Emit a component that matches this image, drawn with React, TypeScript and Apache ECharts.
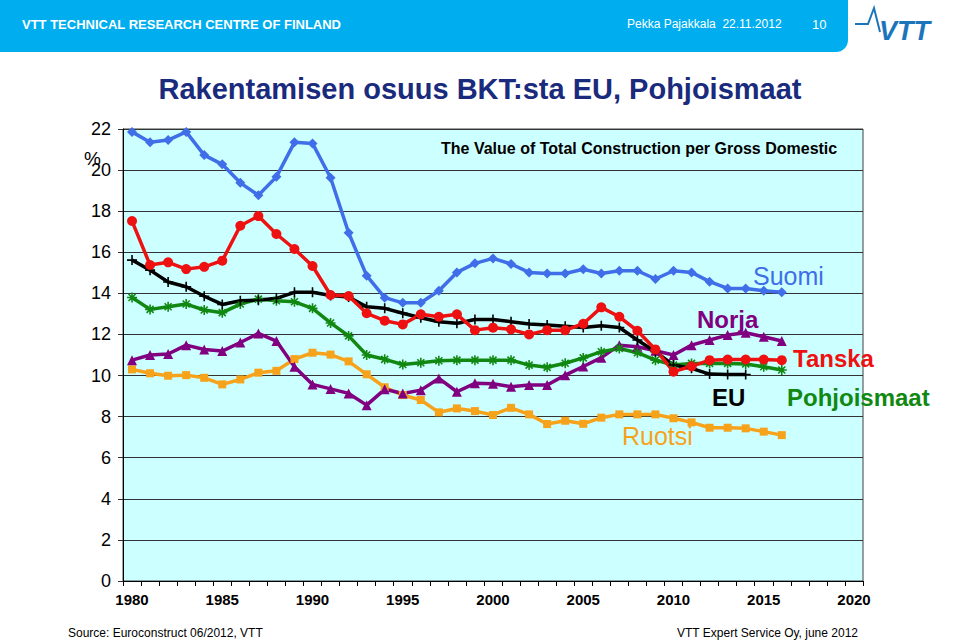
import React, { useEffect, useRef } from "react";
import * as echarts from "echarts";

const years = [
  "1980", "1981", "1982", "1983", "1984", "1985", "1986", "1987", "1988", "1989",
  "1990", "1991", "1992", "1993", "1994", "1995", "1996", "1997", "1998", "1999",
  "2000", "2001", "2002", "2003", "2004", "2005", "2006", "2007", "2008", "2009",
  "2010", "2011", "2012", "2013", "2014", "2015", "2016", "2017", "2018", "2019", "2020",
];

const suomi = [
  21.86, 21.35, 21.46, 21.86, 20.73, 20.28, 19.38, 18.78, 19.67, 21.35,
  21.3, 19.63, 16.95, 14.86, 13.79, 13.54, 13.54, 14.13, 15.02, 15.46,
  15.7, 15.43, 15.02, 14.97, 14.97, 15.17, 14.97, 15.1, 15.1, 14.7,
  15.1, 15.02, 14.57, 14.24, 14.24, 14.13, 14.05,
];
const tanska = [
  17.52, 15.38, 15.51, 15.18, 15.29, 15.59, 17.29, 17.76, 16.89, 16.16,
  15.33, 13.92, 13.87, 13.03, 12.67, 12.49, 12.98, 12.86, 12.98, 12.21,
  12.33, 12.25, 12.0, 12.21, 12.21, 12.52, 13.32, 12.86, 12.18, 11.27,
  10.19, 10.45, 10.75, 10.78, 10.78, 10.78, 10.75,
];
const eu = [
  15.62, 15.13, 14.55, 14.32, 13.86, 13.46, 13.64, 13.67, 13.76, 14.05,
  14.05, 13.9, 13.82, 13.35, 13.27, 13.03, 12.81, 12.62, 12.54, 12.73,
  12.73, 12.62, 12.51, 12.46, 12.4, 12.34, 12.42, 12.34, 11.73, 11.16,
  10.51, 10.35, 10.07, 10.05, 10.05,
];
const pohjoismaat = [
  13.8, 13.22, 13.35, 13.48, 13.19, 13.06, 13.48, 13.72, 13.64, 13.59,
  13.27, 12.56, 11.93, 11.0, 10.79, 10.54, 10.62, 10.72, 10.75, 10.75,
  10.75, 10.75, 10.51, 10.4, 10.6, 10.86, 11.16, 11.32, 11.11, 10.75,
  10.51, 10.59, 10.59, 10.59, 10.56, 10.43, 10.27,
];
const norja = [
  10.75, 11.0, 11.05, 11.48, 11.27, 11.19, 11.61, 12.05, 11.68, 10.43,
  9.57, 9.35, 9.13, 8.56, 9.33, 9.13, 9.29, 9.86, 9.21, 9.62,
  9.6, 9.46, 9.54, 9.54, 10.02, 10.44, 10.87, 11.48, 11.4, 11.21,
  11.0, 11.48, 11.73, 11.97, 12.08, 11.89, 11.68,
];
const ruotsi = [
  10.3, 10.11, 9.99, 10.02, 9.89, 9.57, 9.81, 10.14, 10.23, 10.8,
  11.11, 11.02, 10.69, 10.06, 9.43, 9.05, 8.81, 8.21, 8.4, 8.27,
  8.08, 8.43, 8.11, 7.64, 7.8, 7.65, 7.95, 8.11, 8.11, 8.11,
  7.92, 7.72, 7.46, 7.46, 7.43, 7.27, 7.1,
];

const yTicks = { min: 0, max: 22, interval: 2 };

const C = {
  suomi: "#3f6ee8",
  tanska: "#ee1111",
  eu: "#000000",
  pohj: "#118811",
  norja: "#800080",
  ruotsi: "#f7a21b",
  title: "#1a2a7c",
  header: "#00aeef",
};

const FONT = "'Liberation Sans', Arial, Helvetica, sans-serif";
const NARROW = "'Liberation Sans Narrow', 'Arial Narrow', 'Liberation Sans', Arial, sans-serif";

const pad = (arr: number[]) => years.map((_, i) => (i < arr.length ? arr[i] : null));

const PLUS = "path://M5,0L5,10M0,5L10,5";
const STAR = "path://M5,0L5,10M0,5L10,5M1.5,1.5L8.5,8.5M8.5,1.5L1.5,8.5";

function lineSeries(name: string, data: number[], color: string, symbol: string, symbolSize: number, stroke = false) {
  return {
    name,
    type: "line",
    data: pad(data),
    symbol,
    symbolSize,
    showSymbol: true,
    connectNulls: false,
    lineStyle: { color, width: 3.5 },
    itemStyle: stroke
      ? { color, borderColor: color, borderWidth: 1.6 }
      : { color, borderWidth: 0 },
    emphasis: { disabled: true },
    z: 2,
  };
}

export default function App() {
  const ref = useRef<HTMLDivElement>(null);
  useEffect(() => {
    const chart = echarts.init(ref.current!, null, { renderer: "svg" });
    const label = (text: string, x: number, y: number, color: string, size: number, bold: boolean) => ({
      type: "text",
      left: x,
      top: y - size / 2 - 1,
      style: { text, fill: color, font: `${bold ? "bold " : ""}${size}px ${FONT}` },
      z: 10,
    });
    chart.setOption({
      animation: false,
      backgroundColor: "#ffffff",
      grid: {
        left: 123,
        top: 129,
        width: 740,
        height: 452,
        show: true,
        backgroundColor: "#ccffff",
        borderColor: "#404040",
        borderWidth: 1,
      },
      xAxis: {
        type: "category",
        data: years,
        boundaryGap: true,
        axisLine: { show: true, lineStyle: { color: "#000", width: 1 } },
        axisTick: { show: true, interval: 0, length: 5, lineStyle: { color: "#000" } },
        axisLabel: {
          interval: 4,
          color: "#000",
          fontFamily: FONT,
          fontWeight: "bold",
          fontSize: 15,
          margin: 11,
        },
        splitLine: { show: false },
      },
      yAxis: {
        type: "value",
        min: yTicks.min,
        max: yTicks.max,
        interval: yTicks.interval,
        axisLine: { show: true, lineStyle: { color: "#000", width: 1 } },
        axisTick: { show: true, length: 5, lineStyle: { color: "#333" } },
        axisLabel: { color: "#000", fontFamily: FONT, fontSize: 18, margin: 12 },
        splitLine: { show: true, lineStyle: { color: "#333", width: 1 } },
      },
      series: [
        lineSeries("Ruotsi", ruotsi, C.ruotsi, "rect", 8),
        lineSeries("Norja", norja, C.norja, "triangle", 10),
        lineSeries("Pohjoismaat", pohjoismaat, C.pohj, STAR, 10, true),
        lineSeries("EU", eu, C.eu, PLUS, 10, true),
        lineSeries("Tanska", tanska, C.tanska, "circle", 10),
        lineSeries("Suomi", suomi, C.suomi, "diamond", 10),
      ],
      graphic: [
        {
          type: "rect",
          shape: { x: 0, y: 0, width: 848, height: 52, r: [0, 0, 12, 0] },
          style: { fill: C.header },
          z: 1,
        },
        {
          type: "text",
          left: 22,
          top: 18,
          z: 5,
          style: { text: "VTT TECHNICAL RESEARCH CENTRE OF FINLAND", fill: "#fff", font: `bold 13px ${NARROW}` },
        },
        {
          type: "text",
          left: 627,
          top: 18,
          z: 5,
          style: { text: "Pekka Pajakkala  22.11.2012", fill: "#fff", font: `12px ${NARROW}` },
        },
        {
          type: "text",
          left: 812,
          top: 18,
          z: 5,
          style: { text: "10", fill: "#fff", font: `13px ${NARROW}` },
        },
        {
          type: "polyline",
          shape: { points: [[855, 24], [868, 24], [874, 8], [880, 32]] },
          style: { stroke: "#1b75bb", lineWidth: 2, fill: "none" },
          z: 5,
        },
        {
          type: "text",
          left: 879,
          top: 17,
          z: 5,
          style: { text: "VTT", fill: "#1b75bb", font: `italic 900 27px ${FONT}` },
        },
        {
          type: "text",
          left: "center",
          top: 74,
          z: 5,
          style: {
            text: "Rakentamisen osuus BKT:sta EU, Pohjoismaat",
            fill: C.title,
            font: `bold 29px ${FONT}`,
          },
        },
        {
          type: "text",
          left: 441,
          top: 140,
          style: {
            text: "The Value of Total Construction per Gross Domestic",
            fill: "#000",
            font: `bold 16px ${FONT}`,
          },
          z: 10,
        },
        {
          type: "text",
          left: 84,
          top: 149,
          z: 5,
          style: { text: "%", fill: "#000", font: `19px ${FONT}` },
        },
        label("Suomi", 753, 277, C.suomi, 25, false),
        label("Norja", 697, 320, C.norja, 24, true),
        label("Tanska", 793, 359, C.tanska, 24, true),
        label("EU", 712, 398, C.eu, 24, true),
        label("Pohjoismaat", 787, 398, C.pohj, 24, true),
        label("Ruotsi", 622, 437, C.ruotsi, 25, false),
        {
          type: "text",
          left: 68,
          top: 627,
          z: 5,
          style: { text: "Source: Euroconstruct 06/2012, VTT", fill: "#000", font: `12px ${NARROW}` },
        },
        {
          type: "text",
          left: 677,
          top: 627,
          z: 5,
          style: { text: "VTT Expert Service Oy, june 2012", fill: "#000", font: `12px ${NARROW}` },
        },
      ],
    });
    return () => chart.dispose();
  }, []);
  return (
    <div
      ref={ref}
      style={{ position: "absolute", left: 0, top: 0, width: 960, height: 643, background: "#fff" }}
    />
  );
}
